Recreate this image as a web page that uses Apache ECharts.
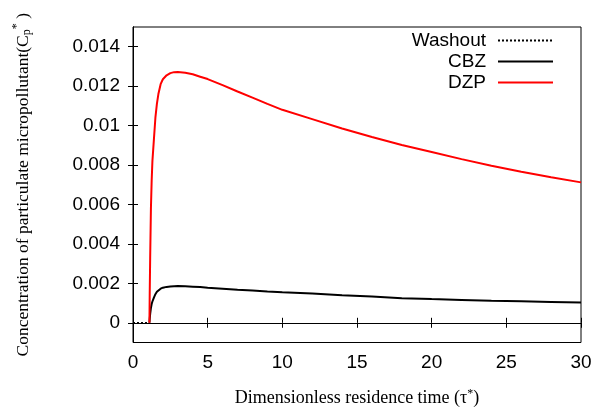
<!DOCTYPE html>
<html>
<head>
<meta charset="utf-8">
<script src="https://cdn.jsdelivr.net/npm/echarts@6/dist/echarts.min.js"></script>
<style>html,body{margin:0;padding:0;background:#fff;}#c{width:604px;height:412px;}</style>
</head>
<body>
<div id="c"></div>
<script>
// ---- data ----
const washoutX = [0, 1];
const washoutY = [0, 0];
const curveX = [1.1, 1.12, 1.15, 1.2, 1.25, 1.3, 1.4, 1.5, 1.6, 1.7, 1.85, 2, 2.25, 2.5, 2.75, 3, 3.5, 4, 4.5, 5, 6, 7, 8, 9, 10, 12, 14, 16, 18, 20, 22, 24, 26, 28, 30];
const cbzY = [0, 0.0002, 0.00045, 0.00075, 0.00095, 0.00108, 0.00128, 0.00145, 0.00157, 0.00166, 0.00173, 0.00178, 0.00182, 0.00184, 0.00185, 0.00186, 0.00185, 0.00183, 0.00181, 0.00178, 0.00173, 0.00168, 0.00164, 0.00159, 0.00155, 0.00148, 0.0014, 0.00133, 0.00125, 0.0012, 0.00116, 0.00112, 0.00109, 0.00106, 0.00103];
const dzpY = [0, 0.0015, 0.0033, 0.0058, 0.0072, 0.0082, 0.0093, 0.0104, 0.0111, 0.0116, 0.0121, 0.01235, 0.01255, 0.01266, 0.01271, 0.01272, 0.01268, 0.0126, 0.01248, 0.01236, 0.01205, 0.01173, 0.01142, 0.0111, 0.0108, 0.01033, 0.00985, 0.00942, 0.00902, 0.00866, 0.0083, 0.00796, 0.00766, 0.00738, 0.00712];
const yTicks = [0, 0.002, 0.004, 0.006, 0.008, 0.01, 0.012, 0.014];
const yTickLabels = ['0', '0.002', '0.004', '0.006', '0.008', '0.01', '0.012', '0.014'];
const xTickLabels = ['0', '5', '10', '15', '20', '25', '30'];

const pairs = (xs, ys) => xs.map((x, i) => [x, ys[i]]);

const chart = echarts.init(document.getElementById('c'), null, {renderer: 'canvas'});
const sans = 'Liberation Sans, Arial, sans-serif';
const serif = 'Liberation Serif, Times New Roman, serif';

const commonX = {
  type: 'value', min: 0, max: 30, interval: 5,
  axisLine: {show: true, lineStyle: {color: '#000', width: 1}},
  axisTick: {show: true, inside: true, length: 5, lineStyle: {color: '#000'}},
  splitLine: {show: false}
};
const commonY = {
  type: 'value', min: -0.001, max: 0.015,
  axisLine: {show: true, lineStyle: {color: '#000', width: 1}},
  axisTick: {show: true, inside: true, length: 5, customValues: yTicks, lineStyle: {color: '#000'}},
  splitLine: {show: false}
};

chart.setOption({
  animation: false,
  backgroundColor: '#fff',
  grid: {left: 133, right: 23, top: 27, bottom: 68, show: true, borderColor: '#000', borderWidth: 1},
  legend: {
    orient: 'vertical', right: 45, top: 25, align: 'right',
    itemWidth: 55, itemHeight: 14, itemGap: 0,
    itemStyle: {opacity: 0},
    textStyle: {fontFamily: sans, fontSize: 19, color: '#000', lineHeight: 21, padding: [0, 7, 0, 0]},
    data: ['Washout', 'CBZ', 'DZP']
  },
  xAxis: [
    Object.assign({}, commonX, {
      position: 'bottom',
      axisLabel: {fontFamily: sans, fontSize: 19, color: '#000', margin: 11,
        formatter: (v) => xTickLabels[Math.round(v / 5)]},
      name: 'Dimensionless residence time (τ{sup|*})',
      nameLocation: 'middle', nameGap: 45,
      nameTextStyle: {fontFamily: serif, fontSize: 18, color: '#000',
        rich: {sup: {fontFamily: serif, fontSize: 12, verticalAlign: 'top', padding: [0, 0, 9, 0]}}}
    }),
    Object.assign({}, commonX, {position: 'top', axisLabel: {show: false}})
  ],
  yAxis: [
    Object.assign({}, commonY, {
      position: 'left',
      axisLabel: {fontFamily: sans, fontSize: 19, color: '#000', margin: 13, customValues: yTicks,
        formatter: (v) => { const i = yTicks.findIndex(t => Math.abs(t - v) < 1e-9); return i >= 0 ? yTickLabels[i] : ''; }},
      name: 'Concentration of particulate micropollutant(C{sub|p}{sup|*}{n| )}',
      nameLocation: 'middle', nameGap: 98, nameRotate: 90,
      nameTextStyle: {fontFamily: serif, fontSize: 17.5, color: '#000',
        rich: {
          sub: {fontFamily: serif, fontSize: 12, padding: [7, 0, 0, 0]},
          sup: {fontFamily: serif, fontSize: 12, padding: [0, 0, 12, 0]},
          n: {fontFamily: serif, fontSize: 17.5}
        }}
    }),
    Object.assign({}, commonY, {position: 'right', axisLabel: {show: false}})
  ],
  series: [
    {name: 'Washout', type: 'line', xAxisIndex: 0, yAxisIndex: 0, symbol: 'none',
      lineStyle: {color: '#000', width: 1.5, type: [2, 2]}, itemStyle: {color: '#000'},
      data: pairs(washoutX, washoutY)},
    {name: 'CBZ', type: 'line', xAxisIndex: 0, yAxisIndex: 0, symbol: 'none',
      lineStyle: {color: '#000', width: 2}, itemStyle: {color: '#000'},
      data: pairs(curveX, cbzY)},
    {name: 'DZP', type: 'line', xAxisIndex: 0, yAxisIndex: 0, symbol: 'none',
      lineStyle: {color: '#ff0000', width: 2}, itemStyle: {color: '#ff0000'},
      data: pairs(curveX, dzpY)}
  ]
});
</script>
</body>
</html>
